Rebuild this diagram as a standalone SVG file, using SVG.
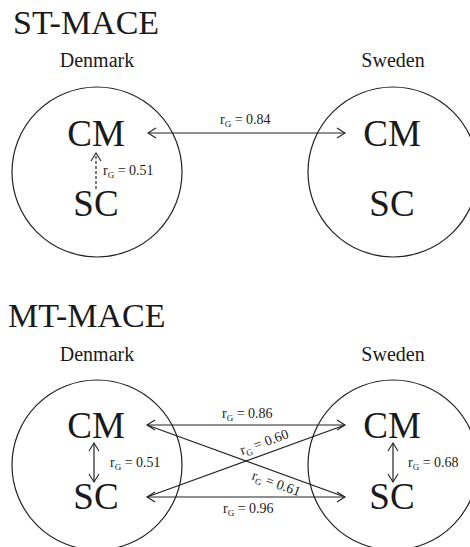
<svg xmlns="http://www.w3.org/2000/svg" width="470" height="547" viewBox="0 0 470 547">
<defs>
<marker id="ah" viewBox="-10 -6 12 12" markerWidth="12" markerHeight="12" refX="0" refY="0" orient="auto-start-reverse" markerUnits="userSpaceOnUse">
<path d="M-8,-5 L0,0 L-8,5" fill="none" stroke="#222" stroke-width="1.1"/>
</marker>
</defs>
<style>
text{font-family:"Liberation Serif","Times New Roman",serif;fill:#1a1a1a}
.title{font-size:34px}
.country{font-size:20px;text-anchor:middle}
.node{font-size:37px;text-anchor:middle}
.lab{font-size:14px}
.sub{font-size:9px}
circle{fill:none;stroke:#222;stroke-width:1.2}
.conn line{stroke:#222;stroke-width:1.2}
.arr{marker-start:url(#ah);marker-end:url(#ah)}
.dash{stroke-dasharray:3,2}
</style>
<rect width="470" height="547" fill="#fff"/>

<text class="title" x="13" y="34">ST-MACE</text>
<text class="title" x="8" y="327">MT-MACE</text>

<g id="st-denmark">
<text class="country" x="97" y="67">Denmark</text>
<circle cx="97" cy="172" r="85"/>
<text class="node" x="96" y="146">CM</text>
<text class="node" x="96" y="216">SC</text>
</g>
<g id="st-sweden">
<text class="country" x="393" y="67">Sweden</text>
<circle cx="393" cy="172" r="85"/>
<text class="node" x="392" y="146">CM</text>
<text class="node" x="392" y="216">SC</text>
</g>

<g id="mt-denmark">
<text class="country" x="97" y="361">Denmark</text>
<circle cx="97" cy="465" r="85"/>
<text class="node" x="96" y="438">CM</text>
<text class="node" x="96" y="509">SC</text>
</g>
<g id="mt-sweden">
<text class="country" x="393" y="361">Sweden</text>
<circle cx="393" cy="465" r="85"/>
<text class="node" x="392" y="438">CM</text>
<text class="node" x="392" y="509">SC</text>
</g>

<g id="connectors" class="conn">
<line class="arr" x1="148" y1="133" x2="345" y2="133"/>
<line class="dash" x1="96" y1="189" x2="96" y2="153" marker-end="url(#ah)"/>
<line class="arr" x1="147" y1="425" x2="345" y2="425"/>
<line class="arr" x1="147" y1="497" x2="345" y2="497"/>
<line x1="147" y1="425" x2="345" y2="497"/>
<line x1="147" y1="497" x2="345" y2="425"/>
<line class="arr" x1="94" y1="443" x2="94" y2="482"/>
<line class="arr" x1="393" y1="443" x2="393" y2="482"/>
</g>

<g id="labels">
<text class="lab" x="220" y="124">r<tspan class="sub" dy="3">G</tspan><tspan dy="-3"> = 0.84</tspan></text>
<text class="lab" x="103" y="175">r<tspan class="sub" dy="3">G</tspan><tspan dy="-3"> = 0.51</tspan></text>
<text class="lab" x="222" y="418">r<tspan class="sub" dy="3">G</tspan><tspan dy="-3"> = 0.86</tspan></text>
<text class="lab" x="223" y="513">r<tspan class="sub" dy="3">G</tspan><tspan dy="-3"> = 0.96</tspan></text>
<text class="lab" x="110" y="467">r<tspan class="sub" dy="3">G</tspan><tspan dy="-3"> = 0.51</tspan></text>
<text class="lab" x="408" y="467">r<tspan class="sub" dy="3">G</tspan><tspan dy="-3"> = 0.68</tspan></text>
<text class="lab" transform="translate(242,455) rotate(-20)">r<tspan class="sub" dy="3">G</tspan><tspan dy="-3"> = 0.60</tspan></text>
<text class="lab" transform="translate(251,479) rotate(20)">r<tspan class="sub" dy="3">G</tspan><tspan dy="-3"> = 0.61</tspan></text>
</g>
</svg>
